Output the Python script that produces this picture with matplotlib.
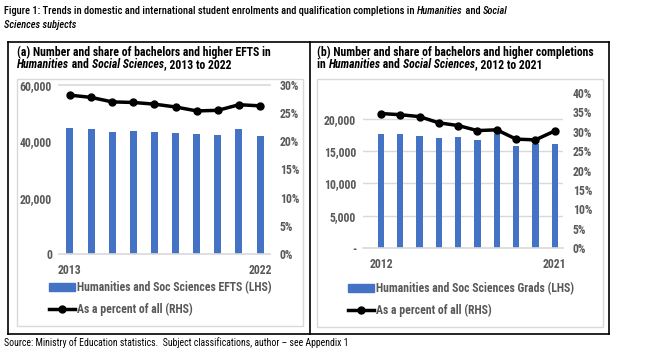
import matplotlib.pyplot as plt
from matplotlib.lines import Line2D
from matplotlib.patches import Rectangle
from matplotlib.ticker import FuncFormatter

W, H = 646, 362
NARROW = ['Roboto Condensed', 'Archivo Narrow', 'DejaVu Sans']
GRAY = '#595959'
GRID = '#D9D9D9'
BLUE = '#4472C4'

# panel (a): EFTS 2013-2022
years_a = [2013, 2014, 2015, 2016, 2017, 2018, 2019, 2020, 2021, 2022]
efts = [44800, 44400, 43400, 43800, 43400, 43100, 42700, 42400, 44500, 42000]
efts_pct = [28.2, 27.8, 27.0, 26.9, 26.6, 26.1, 25.4, 25.5, 26.5, 26.3]

# panel (b): completions 2012-2021
years_b = [2012, 2013, 2014, 2015, 2016, 2017, 2018, 2019, 2020, 2021]
grads = [17600, 17600, 17400, 17100, 17200, 16700, 17700, 15800, 16100, 16100]
grads_pct = [34.7, 34.4, 33.9, 32.3, 31.6, 30.3, 30.5, 28.1, 27.9, 30.2]

plt.rcParams['font.family'] = NARROW


def px_axes(fig, x0, y0, x1, y1):
    return fig.add_axes([x0 / W, 1 - y1 / H, (x1 - x0) / W, (y1 - y0) / H])


def rich_text(fig, x, y, parts, **kw):
    # parts: list of (text, style); drawn one after the other in pixels
    r = fig.canvas.get_renderer()
    for s, style in parts:
        t = fig.text(x / W, 1 - y / H, s, style=style, va='center', **kw)
        x += t.get_window_extent(r).width
    return x


def panel(fig, box, years, vals, pct, ylim_l, yticks_l, ylim_r, yticks_r,
          xlim, bar_lbl, leg_xy, zero_dash=False, top_line=False):
    ax = px_axes(fig, *box)
    idx = list(range(len(years)))
    ax.bar(idx, vals, width=0.33, color=BLUE, zorder=2)
    ax.set_xlim(*xlim)
    ax.set_ylim(*ylim_l)
    ax.set_yticks(yticks_l)
    if zero_dash:
        ax.yaxis.set_major_formatter(FuncFormatter(lambda v, p: '-' if v == 0 else f'{int(v):,}'))
        ax.yaxis.grid(True, color=GRID, lw=1, zorder=0)
    else:
        ax.yaxis.set_major_formatter(FuncFormatter(lambda v, p: f'{int(v):,}'))
    if top_line:
        ax.axhline(ylim_l[1], color=GRID, lw=1.2, zorder=0, clip_on=False)
    ax.set_xticks([idx[0], idx[-1]])
    ax.set_xticklabels([str(years[0]), str(years[-1])])
    for s in ['top', 'left', 'right']:
        ax.spines[s].set_visible(False)
    ax.spines['bottom'].set_color(GRID)
    ax.spines['bottom'].set_linewidth(1.2)
    ax.tick_params(length=0, labelsize=8.5, labelcolor=GRAY, pad=5)
    ax.tick_params(axis='x', pad=7)
    for lab in ax.get_xticklabels() + ax.get_yticklabels():
        lab.set_fontweight('bold')

    ax2 = ax.twinx()
    ax2.plot(idx, pct, color='black', lw=2.5, marker='o', ms=5, zorder=3)
    ax2.set_ylim(*ylim_r)
    ax2.set_yticks(yticks_r)
    ax2.yaxis.set_major_formatter(FuncFormatter(lambda v, p: f'{v:.0f}%'))
    for s in ax2.spines.values():
        s.set_visible(False)
    ax2.tick_params(length=0, labelsize=8.5, labelcolor=GRAY, pad=7)
    for lab in ax2.get_yticklabels():
        lab.set_fontweight('bold')

    handles = [Rectangle((0, 0), 1, 1, color=BLUE),
               Line2D([], [], color='black', lw=2.5, marker='o', ms=5)]
    leg = fig.legend(handles, [bar_lbl, 'As a percent of all (RHS)'],
                     loc='upper left', bbox_to_anchor=(leg_xy[0] / W, 1 - leg_xy[1] / H),
                     frameon=False, fontsize=8.5, handlelength=2.2, handleheight=0.55,
                     handletextpad=0.2, labelspacing=0.75, borderpad=0, borderaxespad=0)
    for t in leg.get_texts():
        t.set_color(GRAY)
        t.set_fontweight('bold')
    return ax, ax2


fig = plt.figure(figsize=(W / 100, H / 100), dpi=100)

# title
kw = dict(fontsize=7.5, color='black', weight='medium', family=NARROW)
rich_text(fig, 4, 11, [('Figure 1: Trends in domestic and international student enrolments and '
                        'qualification completions in ', 'normal'),
                       ('Humanities', 'italic'), (' and ', 'normal'), ('Social', 'italic')], **kw)
rich_text(fig, 4, 25, [('Sciences subjects', 'italic')], **kw)

# outer frame and divider
frame = dict(color='black', lw=1.2, transform=fig.transFigure)
for xs, ys in [((8, 609), (42, 42)), ((8, 609), (334, 334)), ((8, 8), (42, 334)),
               ((609, 609), (42, 334)), ((310, 310), (42, 334))]:
    fig.add_artist(Line2D([x / W for x in xs], [1 - y / H for y in ys], **frame))
# inner chart boxes
for x0, y0, x1, y1 in [(17, 79, 303, 326), (317, 79, 603, 327)]:
    fig.add_artist(Rectangle((x0 / W, 1 - y1 / H), (x1 - x0) / W, (y1 - y0) / H,
                             transform=fig.transFigure, fill=False, ec=GRID, lw=1))

# panel titles
kw = dict(fontsize=8.5, color='black', weight='bold', family=NARROW)
rich_text(fig, 17, 52, [('(a) Number and share of bachelors and higher EFTS in', 'normal')], **kw)
rich_text(fig, 17, 65, [('Humanities', 'italic'), (' and ', 'normal'),
                        ('Social Sciences', 'italic'), (', 2013 to 2022', 'normal')], **kw)
rich_text(fig, 317, 52, [('(b) Number and share of bachelors and higher completions', 'normal')], **kw)
rich_text(fig, 317, 65, [('in ', 'normal'), ('Humanities', 'italic'), (' and ', 'normal'),
                         ('Social Sciences', 'italic'), (', 2012 to 2021', 'normal')], **kw)

panel(fig, (59, 85, 270, 254), years_a, efts, efts_pct,
      (0, 60000), [0, 20000, 40000, 60000], (0, 30), [0, 5, 10, 15, 20, 25, 30],
      (-0.52, 9.47), 'Humanities and Soc Sciences EFTS (LHS)', (49, 281), top_line=True)

panel(fig, (363, 93, 563, 248), years_b, grads, grads_pct,
      (0, 24000), [0, 5000, 10000, 15000, 20000], (0, 40), [0, 5, 10, 15, 20, 25, 30, 35, 40],
      (-0.93, 9.43), 'Humanities and Soc Sciences Grads (LHS)', (348, 282), zero_dash=True)

fig.text(4 / W, 1 - 343 / H, 'Source: Ministry of Education statistics.  Subject classifications, '
         'author \u2013 see Appendix 1', fontsize=7, color='black', va='center', family=NARROW)

fig.savefig('out.png', dpi=100)
